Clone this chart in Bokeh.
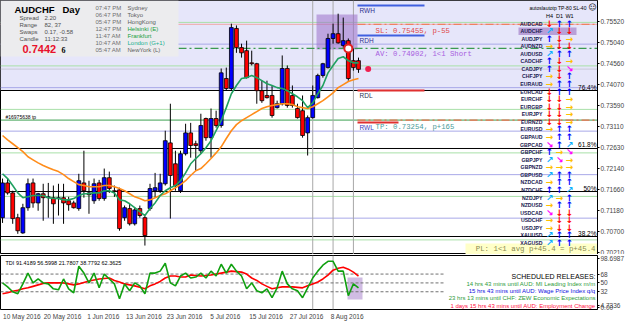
from bokeh.plotting import figure
from bokeh.layouts import column
from bokeh.models import Range1d, FixedTicker, PrintfTickFormatter, Label, BoxAnnotation, Span, ColumnDataSource
from bokeh.core.properties import value
from bokeh.embed import file_html
from bokeh.resources import INLINE

# ---------------- data ----------------
opens = [0.7101, 0.7181, 0.7158, 0.7101, 0.7066, 0.7124, 0.7181, 0.7135, 0.7156, 0.7147,
         0.7147, 0.7145, 0.7147, 0.7140, 0.7135, 0.7122, 0.7181, 0.7158, 0.7140, 0.7181,
         0.7145, 0.7193, 0.7163, 0.7165, 0.7101, 0.7122, 0.7087, 0.7122, 0.7101, 0.7122,
         0.7163, 0.7163, 0.7179, 0.7273, 0.7225, 0.7163, 0.7248, 0.7296, 0.7271, 0.7255,
         0.7329, 0.7285, 0.7329, 0.7313, 0.7421, 0.7398, 0.7536, 0.7492, 0.7485, 0.7457,
         0.7455, 0.7393, 0.7382, 0.7382, 0.7354, 0.7363, 0.7444, 0.7382, 0.7352, 0.7347,
         0.7296, 0.7331, 0.7377, 0.7428, 0.7446, 0.7513, 0.7524, 0.7497, 0.7508, 0.7462,
         0.7462]
highs = [0.7191, 0.7191, 0.7163, 0.7110, 0.7133, 0.7191, 0.7191, 0.7158, 0.7179, 0.7181,
         0.7175, 0.7179, 0.7179, 0.7149, 0.7140, 0.7202, 0.7255, 0.7186, 0.7191, 0.7188,
         0.7214, 0.7207, 0.7175, 0.7170, 0.7129, 0.7133, 0.7124, 0.7129, 0.7106, 0.7179,
         0.7204, 0.7202, 0.7301, 0.7363, 0.7255, 0.7255, 0.7317, 0.7319, 0.7278, 0.7340,
         0.7331, 0.7352, 0.7347, 0.7444, 0.7446, 0.7547, 0.7543, 0.7501, 0.7508, 0.7485,
         0.7457, 0.7416, 0.7416, 0.7405, 0.7370, 0.7474, 0.7451, 0.7405, 0.7363, 0.7382,
         0.7336, 0.7405, 0.7432, 0.7457, 0.7524, 0.7547, 0.7570, 0.7561, 0.7513, 0.7490,
         0.7469]
lows = [0.7089, 0.7154, 0.7087, 0.7064, 0.7064, 0.7117, 0.7124, 0.7117, 0.7094, 0.7101,
        0.7087, 0.7106, 0.7087, 0.7117, 0.7122, 0.7117, 0.7147, 0.7110, 0.7133, 0.7140,
        0.7140, 0.7158, 0.7149, 0.7071, 0.7094, 0.7083, 0.7083, 0.7101, 0.7037, 0.7117,
        0.7147, 0.7158, 0.7175, 0.7099, 0.7163, 0.7158, 0.7244, 0.7239, 0.7209, 0.7248,
        0.7278, 0.7239, 0.7308, 0.7308, 0.7393, 0.7393, 0.7480, 0.7469, 0.7421, 0.7451,
        0.7363, 0.7365, 0.7375, 0.7331, 0.7352, 0.7359, 0.7354, 0.7354, 0.7329, 0.7285,
        0.7244, 0.7329, 0.7375, 0.7423, 0.7444, 0.7501, 0.7501, 0.7492, 0.7416, 0.7439,
        0.7434]
closes = [0.7181, 0.7158, 0.7099, 0.7071, 0.7124, 0.7179, 0.7135, 0.7156, 0.7147, 0.7149,
          0.7133, 0.7147, 0.7135, 0.7131, 0.7124, 0.7186, 0.7163, 0.7154, 0.7179, 0.7145,
          0.7193, 0.7168, 0.7161, 0.7076, 0.7124, 0.7087, 0.7119, 0.7106, 0.7060, 0.7168,
          0.7170, 0.7181, 0.7278, 0.7198, 0.7175, 0.7248, 0.7296, 0.7267, 0.7267, 0.7313,
          0.7285, 0.7329, 0.7313, 0.7434, 0.7398, 0.7538, 0.7492, 0.7480, 0.7423, 0.7455,
          0.7393, 0.7370, 0.7377, 0.7336, 0.7363, 0.7444, 0.7359, 0.7359, 0.7331, 0.7290,
          0.7331, 0.7382, 0.7428, 0.7455, 0.7513, 0.7524, 0.7503, 0.7508, 0.7421, 0.7446,
          0.7442]
ma_fast = [0.7202, 0.7191, 0.7175, 0.7158, 0.7147, 0.7149, 0.7152, 0.7152, 0.7152, 0.7147,
           0.7145, 0.7145, 0.7142, 0.7142, 0.7145, 0.7152, 0.7156, 0.7156, 0.7158, 0.7158,
           0.7163, 0.7163, 0.7158, 0.7142, 0.7140, 0.7133, 0.7124, 0.7115, 0.7106, 0.7122,
           0.7135, 0.7152, 0.7163, 0.7170, 0.7175, 0.7186, 0.7204, 0.7225, 0.7237, 0.7248,
           0.7262, 0.7278, 0.7301, 0.7324, 0.7354, 0.7386, 0.7405, 0.7421, 0.7423, 0.7428,
           0.7423, 0.7416, 0.7409, 0.7405, 0.7400, 0.7398, 0.7393, 0.7386, 0.7379, 0.7370,
           0.7354, 0.7365, 0.7386, 0.7405, 0.7434, 0.7451, 0.7467, 0.7471, 0.7462, 0.7457,
           0.7457]
ma_slow = [0.7290, 0.7280, 0.7271, 0.7262, 0.7253, 0.7241, 0.7234, 0.7227, 0.7221, 0.7216,
           0.7211, 0.7207, 0.7200, 0.7191, 0.7184, 0.7177, 0.7175, 0.7172, 0.7172, 0.7172,
           0.7175, 0.7175, 0.7172, 0.7168, 0.7163, 0.7156, 0.7149, 0.7145, 0.7140, 0.7142,
           0.7147, 0.7152, 0.7156, 0.7163, 0.7170, 0.7177, 0.7186, 0.7198, 0.7209, 0.7214,
           0.7225, 0.7237, 0.7250, 0.7264, 0.7283, 0.7301, 0.7315, 0.7324, 0.7331, 0.7338,
           0.7345, 0.7352, 0.7356, 0.7359, 0.7361, 0.7363, 0.7363, 0.7361, 0.7356, 0.7354,
           0.7352, 0.7356, 0.7363, 0.7370, 0.7379, 0.7388, 0.7400, 0.7407, 0.7414, 0.7418,
           0.7421]
tdi_price = [50, 42, 32, 28, 48, 70, 50, 58, 50, 48, 38, 36, 58, 38, 30, 84, 70, 50, 70, 40,
             68, 58, 48, 18, 48, 34, 50, 44, 28, 70, 70, 74, 90, 50, 44, 64, 70, 60, 62, 70,
             60, 74, 64, 88, 70, 88, 74, 64, 38, 50, 34, 30, 38, 20, 40, 74, 48, 38, 34, 20,
             40, 60, 74, 86, 94, 94, 74, 74, 24, 48, 40]
tdi_signal = [28, 30, 33, 35, 38, 40, 43, 46, 49, 50, 50, 50, 50, 48, 46, 48, 51, 54, 56, 58,
              59, 60, 55, 52, 48, 46, 44, 41, 38, 44, 48, 53, 60, 64, 64, 62, 62, 66, 65, 64,
              65, 66, 68, 70, 72, 74, 73, 72, 68, 60, 55, 48, 43, 38, 40, 42, 42, 42, 41, 40,
              44, 48, 52, 58, 66, 76, 80, 82, 78, 72, 64]
tick_idx = [0, 8, 16, 24, 32, 40, 48, 56, 64]
tick_labels = ["10 May 2016", "20 May 2016", "1 Jun 2016", "13 Jun 2016", "23 Jun 2016",
               "5 Jul 2016", "15 Jul 2016", "27 Jul 2016", "8 Aug 2016"]
price_ticks = [0.70210, 0.70700, 0.71180, 0.71660, 0.72140, 0.72630, 0.73110, 0.73590,
               0.74070, 0.74560, 0.75040, 0.75520]
fib_levels = [0.73934, 0.72601, 0.71612, 0.70578]
fib_labels = ["76.4%", "61.8%", "50%", "38.2%"]
round_levels = [0.7500, 0.7400, 0.7300, 0.7200, 0.7100]
half_levels = [0.7550, 0.7450, 0.7350, 0.7250, 0.7150, 0.7050]
sl_level, av_level, tp_level = 0.75455, 0.74902, 0.73254
rwh, rdh, rdl, rwl = 0.75888, 0.75198, 0.73934, 0.73199
bid = 0.74426
tdi_levels = [32, 50, 68]
ind_ticks = [0, 4.7336, 32, 50, 68, 98.6987]
ind_tick_labels = ["0.00", "4.7336", "32", "50", "68", "98.6987"]
pairs = ["AUDCAD", "AUDCHF", "AUDJPY", "AUDNZD", "AUDUSD", "CADCHF", "CADJPY", "CHFJPY",
         "EURAUD", "EURCAD", "EURCHF", "EURGBP", "EURJPY", "EURNZD", "EURUSD", "GBPAUD",
         "GBPCAD", "GBPCHF", "GBPJPY", "GBPNZD", "GBPUSD", "NZDCAD", "NZDCHF", "NZDJPY",
         "NZDUSD", "USDCAD", "USDCHF", "USDJPY", "XAUUSD", "XAGUSD"]
sig_h4 = ["d", "ur", "u", "r", "ur", "u", "u", "r", "r", "d", "d", "d", "d", "d", "r", "r",
          "dr", "u", "ur", "r", "ur", "r", "u", "ur", "r", "dr", "r", "r", "ur", "ur"]
sig_d1 = ["u", "d", "d", "d", "u", "d", "d", "d", "u", "u", "d", "d", "d", "d", "u", "u",
          "u", "r", "dr", "r", "u", "u", "u", "r", "u", "d", "d", "d", "u", "u"]
sig_w1 = ["u", "d", "r", "d", "u", "r", "dr", "u", "u", "u", "r", "r", "r", "r", "u", "u",
          "ur", "dr", "r", "r", "u", "u", "ur", "u", "u", "d", "d", "d", "u", "u"]
releases = ["14 hrs 43 mins until AUD: MI Leading Index m/m",
            "15 hrs 43 mins until AUD: Wage Price Index q/q",
            "23 hrs 13 mins until CHF: ZEW Economic Expectations",
            "1 days 15 hrs 43 mins until AUD: Employment Change"]
release_colors = ["#2E9B3A", "#1010E0", "#2E9B3A", "#FF1040"]

# ---------------- geometry helpers ----------------
FW, PH, IH = 597, 254, 54
X0, X1 = -0.4, 117.0
P_TOP = 0.76003
P_BOT = P_TOP - PH * 0.00022987
I_TOP, I_BOT = 105.8, -4.1
I_Y0 = 255  # pixel top of indicator frame


def bx(px):
    return X0 + px * (X1 - X0) / FW


def py(pix):
    return P_TOP - pix * (P_TOP - P_BOT) / PH


def iy(pix):
    return I_TOP - (pix - I_Y0) * (I_TOP - I_BOT) / IH


FONT = "Liberation Sans"
MONO = "Liberation Mono"


def lab(fig, px, pyv, text, size=7, color="black", bold=False, font=FONT, align="left",
        baseline="middle", ymap=py, bg=None):
    kw = dict(x=bx(px), y=ymap(pyv), text=text, text_font=font, text_font_size=f"{size}px",
              text_color=color, text_align=align, text_baseline=baseline,
              text_font_style="bold" if bold else "normal")
    if bg is not None:
        kw["background_fill_color"] = bg
    fig.add_layout(Label(**kw))


idx = list(range(len(opens)))

# ---------------- price pane ----------------
p1 = figure(frame_width=FW, frame_height=PH, x_range=Range1d(X0, X1), y_range=Range1d(P_BOT, P_TOP),
            x_axis_location=None, y_axis_location="right", toolbar_location=None,
            output_backend="svg", min_border_left=0, min_border_top=0, min_border_bottom=0,
            min_border_right=0)
p1.grid.visible = False
p1.outline_line_color = "black"
p1.outline_line_width = 1

p1.add_layout(BoxAnnotation(bottom=fib_levels[0], fill_color="#E6E6FA", fill_alpha=1.0,
                            line_color=None, level="underlay"))
# PL box and highlighted table row sit under the table texts
p1.add_layout(BoxAnnotation(left=bx(465), right=X1, top=py(243), bottom=P_BOT, fill_color="#FFFFC8",
                            fill_alpha=1.0, line_color=None, level="underlay"))
p1.add_layout(BoxAnnotation(left=bx(518), right=bx(576), top=py(27), bottom=py(34.5),
                            fill_color="#B8A0D8", fill_alpha=1.0, line_color=None, level="underlay"))
for lv in round_levels:
    p1.add_layout(Span(location=lv, dimension="width", line_color="#A8A8E8", line_width=1, level="underlay"))
for lv in half_levels:
    p1.add_layout(Span(location=lv, dimension="width", line_color="#A8E0A8", line_width=1, level="underlay"))
for lv in fib_levels:
    p1.add_layout(Span(location=lv, dimension="width", line_color="black", line_width=1, level="underlay"))
p1.add_layout(Span(location=bid, dimension="width", line_color="#C8C8D8", line_width=1, level="underlay"))
p1.add_layout(Span(location=tp_level, dimension="width", line_color="#3CA050", line_width=1, level="underlay"))
p1.add_layout(Span(location=sl_level, dimension="width", line_color="#F0A8A8", line_width=1, level="underlay"))
for xv in [61, 65, 69]:
    p1.add_layout(Span(location=xv, dimension="height", line_color="#A8A8A8", line_width=1, level="underlay"))

# dashed order lines
p1.segment(x0=[bx(178)], y0=[av_level], x1=[X1], y1=[av_level], line_color="#3A9A50",
           line_width=1.2, line_dash="8 3 2 3")
p1.segment(x0=[bx(357)], y0=[sl_level], x1=[X1], y1=[sl_level], line_color="#F08060",
           line_width=1.2, line_dash="8 3 2 3")
p1.segment(x0=[bx(357)], y0=[tp_level], x1=[X1], y1=[tp_level], line_color="#F07050",
           line_width=1.2, line_dash="8 3 2 3")

# range markers
p1.segment(x0=[bx(357)] * 2, y0=[rwh, rdh], x1=[bx(424)] * 2, y1=[rwh, rdh], line_color="#4060E0", line_width=2)
p1.segment(x0=[bx(357)] * 2, y0=[rdl, rwl], x1=[bx(424), bx(398)], y1=[rdl, rwl], line_color="#E03030", line_width=2)

# highlight box of last bars
p1.add_layout(BoxAnnotation(left=bx(316), right=bx(357), top=py(14), bottom=py(49),
                            fill_color="#9A70C8", fill_alpha=0.55, line_color=None, level="underlay"))

# candles
body_top = [max(o, c) for o, c in zip(opens, closes)]
body_bot = [min(o, c) for o, c in zip(opens, closes)]
body_col = ["#0000FF" if c >= o else "#FF0000" for o, c in zip(opens, closes)]
p1.segment(x0=idx, y0=lows, x1=idx, y1=highs, line_color="black", line_width=1)
p1.vbar(x=idx, width=0.75, top=body_top, bottom=body_bot, fill_color=body_col, line_color="black", line_width=0.8)

p1.line(idx, ma_slow, line_color="#FF8C1A", line_width=1.6)
p1.line(idx, ma_fast, line_color="#20A060", line_width=1.6)

p1.scatter([68], [av_level], size=8, marker="circle", fill_color="white", line_color="#E02020", line_width=2)
p1.scatter([71.9], [bid], size=6, marker="circle", fill_color="#F02050", line_color=None)

# info panel
p1.add_layout(BoxAnnotation(left=X0, right=bx(178), top=P_TOP, bottom=py(56), fill_color="#ECECEE",
                            fill_alpha=1.0, line_color=None))
lab(p1, 14, 9, "AUDCHF", size=9.5, bold=True)
lab(p1, 62, 9, "Day", size=9.5, bold=True)
for k, (a, b) in enumerate([("Spread", "2.20"), ("Range", "82, 37"), ("Swaps", "0.17, -0.58"),
                            ("Candle", "11:12:33")]):
    lab(p1, 19, 17 + 7 * k, a, size=6, color="#505050")
    lab(p1, 44, 17 + 7 * k, b, size=6, color="#505050")
lab(p1, 22, 48, "0.7442", size=11, bold=True, color="#E8102A")
lab(p1, 61, 49, "6", size=8, bold=True, font="Liberation Serif")
times = ["07:47 PM", "06:47 PM", "05:47 PM", "12:47 PM", "11:47 AM", "10:47 AM", "05:47 AM"]
cities = ["Sydney", "Tokyo", "HongKong", "Helsinki  (E)", "Frankfurt", "London  (G+1)", "NewYork  (L)"]
city_cols = ["#606060", "#606060", "#606060", "#20A040", "#20A040", "#20B090", "#606060"]
for k in range(7):
    lab(p1, 95, 7 + 7 * k, times[k], size=6, color="#707070")
    lab(p1, 127, 7 + 7 * k, cities[k], size=6, color=city_cols[k])

# level texts
lab(p1, 375, 30, "SL: 0.75455, p-55", size=7.3, color="#E04848", font=MONO)
lab(p1, 375, 53, "AV: 0.74902, 1<1 Short", size=7.3, color="#A860E0", font=MONO)
lab(p1, 375, 126, "TP: 0.73254, p+165", size=7.3, color="#4A9A9A", font=MONO)
lab(p1, 359, 10, "RWH", size=6.5, color="#303090")
lab(p1, 359, 40, "RDH", size=6.5, color="#303090")
lab(p1, 359, 95, "RDL", size=6.5, color="#303050")
lab(p1, 359, 127, "RWL", size=6.5, color="#4040C0")
lab(p1, 5, 116, "#16975638 tp", size=5)
for lv, t in zip(fib_levels, fib_labels):
    lab(p1, 596, 0, t, size=6.5, align="right", baseline="bottom",
        ymap=lambda _p, lv=lv: lv)

# signal table
lab(p1, 586, 7, "autoslautotp TP-80 SL-40", size=5, align="right")
lab(p1, 588, 7, "\u263A", size=8, font="DejaVu Sans")
for t, xp in zip(["H4", "D1", "W1"], [549, 559, 569]):
    lab(p1, xp, 15, t, size=5.5, align="center")
row_px = [23 + 7.57 * k for k in range(len(pairs))]
src_pairs = ColumnDataSource(dict(x=[bx(542)] * len(pairs), y=[py(v) for v in row_px], t=pairs))
p1.text(x="x", y="y", text="t", source=src_pairs, text_font=value(FONT), text_font_size="5.2px",
        text_font_style="bold", text_color="#202050", text_align="right", text_baseline="middle")
sym = {"u": "\u2191", "d": "\u2193", "r": "\u2192", "ur": "\u2197", "dr": "\u2198"}
col = {"u": "#0000FF", "d": "#FF0000", "r": "#FFC000", "ur": "#10B0FF", "dr": "#FF00FF"}
ax, ay, at, ac = [], [], [], []
for sigs, xp in [(sig_h4, 549), (sig_d1, 559), (sig_w1, 569)]:
    for k, s in enumerate(sigs):
        ax.append(bx(xp))
        ay.append(py(row_px[k]))
        at.append(sym[s])
        ac.append(col[s])
src_arr = ColumnDataSource(dict(x=ax, y=ay, t=at, c=ac))
p1.text(x="x", y="y", text="t", text_color="c", source=src_arr, text_font=value("DejaVu Sans"),
        text_font_size="9px", text_font_style="bold", text_align="center", text_baseline="middle")

lab(p1, 595, 248, "PL: 1<1 avg p+45.4 = p+45.4", size=7.4, color="#8A8A50", font=MONO, align="right")

# axis
p1.yaxis.ticker = FixedTicker(ticks=price_ticks)
p1.yaxis.formatter = PrintfTickFormatter(format="%.5f")
p1.yaxis.major_label_text_font = FONT
p1.yaxis.major_label_text_font_size = "6.5px"
p1.yaxis.major_tick_out = 2
p1.yaxis.major_tick_in = 0
p1.yaxis.minor_tick_out = 0
p1.yaxis.minor_tick_in = 0
p1.yaxis.major_label_standoff = 1
p1.yaxis.axis_line_color = "black"
p1.add_layout(Label(x=X1, y=bid, x_offset=1, text="0.74426", text_font=FONT, text_font_size="6.5px",
                    text_color="white", background_fill_color="black", text_baseline="middle"))

# ---------------- indicator pane ----------------
p2 = figure(frame_width=FW, frame_height=IH, x_range=p1.x_range, y_range=Range1d(I_BOT, I_TOP),
            y_axis_location="right", toolbar_location=None, output_backend="svg",
            min_border_left=0, min_border_top=1, min_border_bottom=0, min_border_right=0)
p2.grid.visible = False
p2.outline_line_color = "black"
for xv in [61, 65]:
    p2.add_layout(Span(location=xv, dimension="height", line_color="#A8A8A8", line_width=1, level="underlay"))
p2.segment(x0=[X0] * 3, y0=tdi_levels, x1=[bx(443)] * 3, y1=tdi_levels, line_color="#707070",
           line_width=1, line_dash="3 2")
p2.add_layout(BoxAnnotation(left=bx(347), right=bx(362), top=iy(277), bottom=iy(299),
                            fill_color="#B090D0", fill_alpha=0.6, line_color=None, level="underlay"))
p2.line(idx, tdi_signal, line_color="#FF0000", line_width=1.6)
p2.line(idx, tdi_price, line_color="#10A010", line_width=1.6)
lab(p2, 5, 262, "TDI 91.4189 56.5998 21.7807 38.7792 62.3625", size=5.5, ymap=iy)
lab(p2, 595, 276, "SCHEDULED RELEASES:", size=7, align="right", ymap=iy)
for k, (t, c) in enumerate(zip(releases, release_colors)):
    lab(p2, 595, 283 + 7.4 * k, t, size=6, color=c, align="right", ymap=iy)

# date labels start at their day (MT4 style): centre each label half a label-width right of its bar
LABEL_SHIFT = 3.8
shifted = [round(i + LABEL_SHIFT, 2) for i in tick_idx]
p2.xaxis.ticker = FixedTicker(ticks=shifted)
p2.xaxis.major_label_overrides = {s: t for s, t in zip(shifted, tick_labels)}
p2.xaxis.major_label_text_font = FONT
p2.xaxis.major_label_text_font_size = "6.5px"
p2.xaxis.major_tick_out = 0
p2.xaxis.major_tick_in = 0
p2.xaxis.minor_tick_out = 0
p2.xaxis.minor_tick_in = 0
p2.xaxis.major_label_standoff = 3
p2.xaxis.axis_line_color = None
p2.yaxis.ticker = FixedTicker(ticks=ind_ticks)
p2.yaxis.major_label_overrides = {v: t for v, t in zip(ind_ticks, ind_tick_labels)}
p2.yaxis.major_label_text_font = FONT
p2.yaxis.major_label_text_font_size = "6.5px"
p2.yaxis.major_tick_out = 2
p2.yaxis.major_tick_in = 0
p2.yaxis.minor_tick_out = 0
p2.yaxis.minor_tick_in = 0
p2.yaxis.major_label_standoff = 1

layout = column(p1, p2, spacing=0)
open("out.html", "w").write(file_html(layout, INLINE))
